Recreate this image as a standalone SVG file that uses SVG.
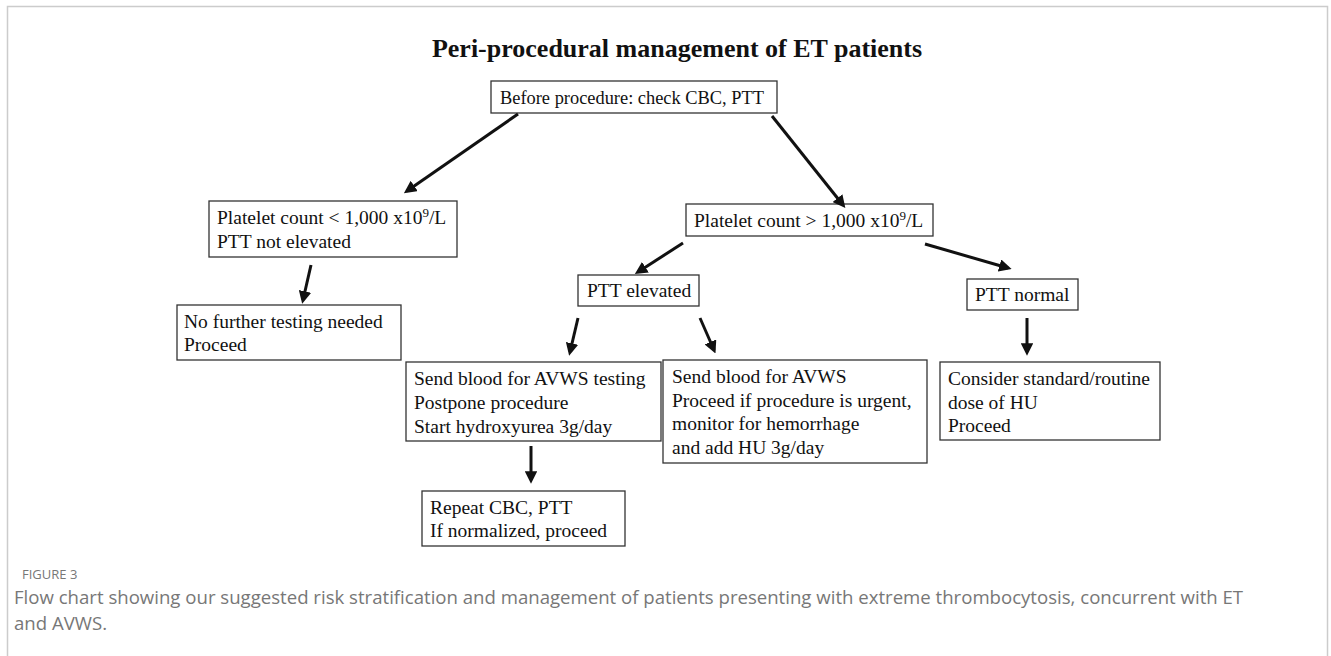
<svg xmlns="http://www.w3.org/2000/svg" width="1331" height="656" viewBox="0 0 1331 656">
<defs>
<style>
.box{fill:#fff;stroke:#333;stroke-width:1.3}
.t{font-family:"Liberation Serif","Times New Roman",serif;font-size:19.5px;fill:#111}
.title{font-family:"Liberation Serif","Times New Roman",serif;font-size:26px;font-weight:bold;fill:#111}
.cap{font-family:"Open Sans","Noto Sans",sans-serif;fill:#777}
.conn line{stroke:#111;stroke-width:3;marker-end:url(#ah)}
</style>
<marker id="ah" viewBox="0 0 10 10" refX="7" refY="5" markerWidth="4.2" markerHeight="4.2" orient="auto" markerUnits="strokeWidth">
<path d="M0,0 L10,5 L0,10 Z" fill="#111"/>
</marker>
</defs>
<rect x="0" y="0" width="1331" height="656" fill="#fff"/>
<rect x="7.5" y="6.5" width="1320" height="700" fill="none" stroke="#ccc" stroke-width="1.5"/>
<text class="title" x="677" y="57" text-anchor="middle">Peri-procedural management of ET patients</text>

<g id="n-before"><rect class="box" x="491" y="81" width="286" height="32"/><text class="t" x="500" y="104" font-size="18.8" textLength="264" lengthAdjust="spacingAndGlyphs">Before procedure: check CBC, PTT</text></g>
<g id="n-low"><rect class="box" x="209" y="201" width="248" height="56"/><text class="t" x="217" y="224">Platelet count &lt; 1,000 x10<tspan dy="-7" font-size="13">9</tspan><tspan dy="7">/L</tspan></text><text class="t" x="217" y="248">PTT not elevated</text></g>
<g id="n-high"><rect class="box" x="686" y="204" width="247" height="32"/><text class="t" x="694" y="227">Platelet count &gt; 1,000 x10<tspan dy="-7" font-size="13">9</tspan><tspan dy="7">/L</tspan></text></g>
<g id="n-nofurther"><rect class="box" x="177" y="305" width="224" height="55"/><text class="t" x="184" y="328">No further testing needed</text><text class="t" x="184" y="351">Proceed</text></g>
<g id="n-pttelev"><rect class="box" x="578" y="275" width="121" height="31"/><text class="t" x="587" y="297">PTT elevated</text></g>
<g id="n-pttnorm"><rect class="box" x="967" y="279" width="111" height="31"/><text class="t" x="975" y="301">PTT normal</text></g>
<g id="n-postpone"><rect class="box" x="406" y="362" width="255" height="79"/><text class="t" x="414" y="385">Send blood for AVWS  testing</text><text class="t" x="414" y="409">Postpone procedure</text><text class="t" x="414" y="433">Start hydroxyurea 3g/day</text></g>
<g id="n-urgent"><rect class="box" x="663" y="360" width="264" height="103"/><text class="t" x="672" y="383">Send blood for AVWS</text><text class="t" x="672" y="407">Proceed if procedure is urgent,</text><text class="t" x="672" y="430">monitor for hemorrhage</text><text class="t" x="672" y="454">and add HU  3g/day</text></g>
<g id="n-standard"><rect class="box" x="940" y="362" width="220" height="78"/><text class="t" x="948" y="385">Consider standard/routine</text><text class="t" x="948" y="409">dose of HU</text><text class="t" x="948" y="432">Proceed</text></g>
<g id="n-repeat"><rect class="box" x="422" y="491" width="203" height="55"/><text class="t" x="430" y="514">Repeat CBC, PTT</text><text class="t" x="430" y="537">If normalized,  proceed</text></g>

<g class="conn">
<line x1="518" y1="114" x2="407" y2="191"/>
<line x1="772" y1="116" x2="843" y2="205"/>
<line x1="311" y1="265" x2="303" y2="300"/>
<line x1="683" y1="243" x2="638" y2="272"/>
<line x1="925" y1="244" x2="1008" y2="268"/>
<line x1="578" y1="318" x2="570" y2="352"/>
<line x1="700" y1="318" x2="714" y2="350"/>
<line x1="1027" y1="318" x2="1027" y2="352"/>
<line x1="531" y1="446" x2="531" y2="480"/>
</g>

<text class="cap" x="22" y="579" font-size="13">FIGURE 3</text>
<text class="cap" x="14" y="604" font-size="18.6">Flow chart showing our suggested risk stratification and management of patients presenting with extreme thrombocytosis, concurrent with ET</text>
<text class="cap" x="14" y="630" font-size="18.6">and AVWS.</text>
</svg>
